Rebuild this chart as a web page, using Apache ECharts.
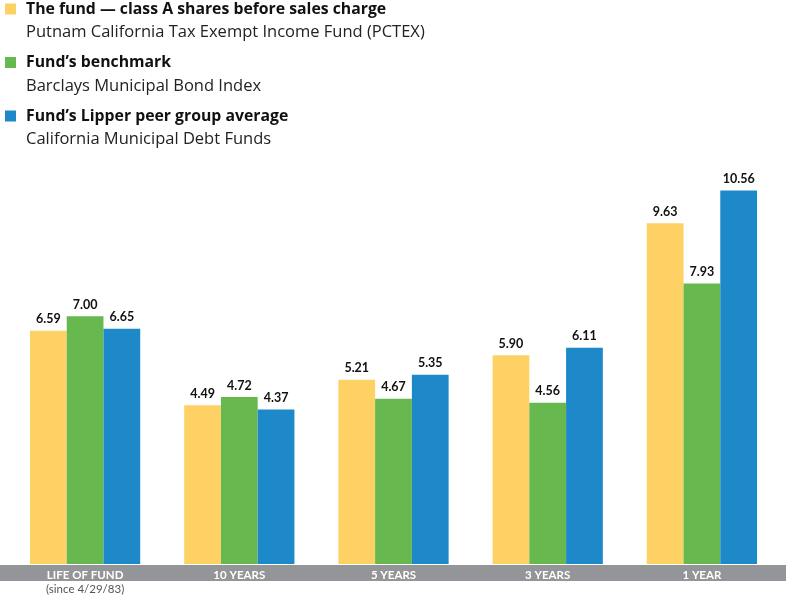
<!DOCTYPE html>
<html><head><meta charset="utf-8">
<script src="https://cdn.jsdelivr.net/npm/echarts@6/dist/echarts.min.js"></script>
<style>html,body{margin:0;padding:0;background:#fff}#c{width:786px;height:595px}</style>
</head><body><div id="c"></div>
<script>
const categories = ['LIFE OF FUND', '10 YEARS', '5 YEARS', '3 YEARS', '1 YEAR'];
const categoryNotes = ['(since 4/29/83)', '', '', '', ''];
const seriesNames = ['The fund — class A shares before sales charge', 'Fund’s benchmark', 'Fund’s Lipper peer group average'];
const seriesNotes = ['Putnam California Tax Exempt Income Fund (PCTEX)', 'Barclays Municipal Bond Index', 'California Municipal Debt Funds'];
const fundValues = [6.59, 4.49, 5.21, 5.90, 9.63];
const benchmarkValues = [7.00, 4.72, 4.67, 4.56, 7.93];
const peerValues = [6.65, 4.37, 5.35, 6.11, 10.56];
const colors = ['#FED164', '#66B84F', '#1E89C9'];
const FONT = 'Lato';
const LFONT = 'Open Sans';

const chart = echarts.init(document.getElementById('c'));
const allValues = [fundValues, benchmarkValues, peerValues];
const legends = seriesNames.map((n, i) => ({
  data: [n], left: 5, top: -22 + i * 53.5, orient: 'vertical',
  itemWidth: 11, itemHeight: 11, itemGap: 0, icon: 'rect', padding: 0,
  selectedMode: false,
  formatter: name => '{e| }\n{b|' + name + '}\n{n|' + seriesNotes[i] + '}',
  textStyle: {
    rich: {
      e: { fontSize: 15, lineHeight: 23.5, fontFamily: LFONT },
      b: { fontSize: 15.8, fontWeight: 'bold', lineHeight: 23.5, color: '#111', fontFamily: LFONT, padding: [0, 0, 0, 5] },
      n: { fontSize: 16.5, lineHeight: 23.5, color: '#222', fontFamily: LFONT, padding: [0, 0, 0, 5] }
    }
  }
}));
chart.setOption({
  animation: false,
  textStyle: { fontFamily: FONT },
  legend: legends,
  grid: { left: 8, right: 7, top: 5, bottom: 30, containLabel: false },
  graphic: [{ type: 'rect', z: 1, shape: { x: 0, y: 565, width: 786, height: 16 }, style: { fill: '#939598' } }],
  xAxis: {
    type: 'category', data: categories, z: 5,
    axisLine: { show: false }, axisTick: { show: false },
    axisLabel: {
      margin: 3, interval: 0,
      formatter: (v, idx) => '{a|' + v + '}' + (categoryNotes[idx] ? '\n{s|' + categoryNotes[idx] + '}' : ''),
      rich: {
        a: { color: '#fff', fontWeight: 'bold', fontSize: 11.5, lineHeight: 16, fontFamily: FONT },
        s: { color: '#555', fontSize: 11.5, lineHeight: 12, fontFamily: FONT }
      }
    }
  },
  yAxis: { type: 'value', min: 0, max: 15.8, show: false, splitLine: { show: false } },
  series: allValues.map((vals, i) => ({
    name: seriesNames[i], type: 'bar', data: vals, barGap: 0, barCategoryGap: '28.5%',
    itemStyle: { color: colors[i] },
    label: { show: true, position: 'top', distance: 5, formatter: p => p.value.toFixed(2),
      fontWeight: 'bold', fontSize: 12.5, color: '#111', fontFamily: FONT }
  }))
});
</script></body></html>
